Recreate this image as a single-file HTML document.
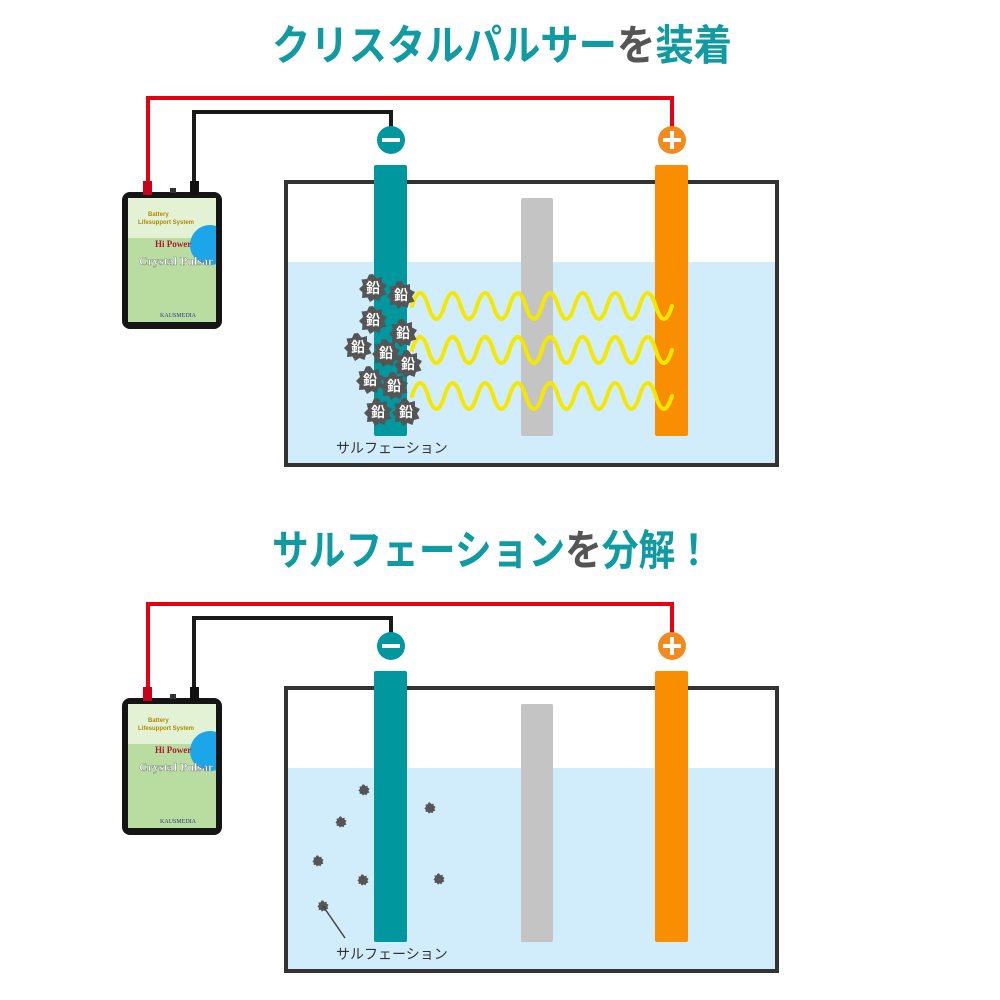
<!DOCTYPE html>
<html><head><meta charset="utf-8"><style>html,body{margin:0;padding:0;background:#fff}svg{display:block}</style></head>
<body>
<svg width="1000" height="1000" viewBox="0 0 1000 1000" xmlns="http://www.w3.org/2000/svg" font-family="'Liberation Sans','Noto Sans CJK JP',sans-serif">
<defs>
<clipPath id="pc"><rect x="128" y="198" width="88" height="124"/></clipPath>
<path id="star" d="M0,-14 L3.5,-9.5 9,-11 9,-5.5 14,-3 11,1.5 13.5,6.5 8,8 6.5,13 1.5,11 -3,14 -5.5,9.5 -11,10 -10.5,4.5 -14,1 -10,-3 -11.5,-8.5 -6,-9 -4,-13.5 Z"/>
<g id="device">
<rect x="122" y="192" width="100" height="137" rx="8" fill="#151515"/>
<g clip-path="url(#pc)">
<rect x="128" y="198" width="88" height="124" fill="#b9dca0"/>
<rect x="128" y="198" width="88" height="40" fill="#e3f2d4"/>
<circle cx="210" cy="245" r="20" fill="#1aa6e8"/>
</g>
<text x="148" y="216" font-size="6" fill="#b08a00" font-weight="bold">Battery</text>
<text x="138" y="224" font-size="6" fill="#b08a00" font-weight="bold">Lifesupport System</text>
<text x="155" y="247" font-size="9" fill="#b01830" font-weight="bold" font-family="'Liberation Serif',serif">Hi Power</text>
<text x="139" y="265" font-size="12" fill="#fff" font-weight="bold" font-family="'Liberation Serif',serif" stroke="#556" stroke-width="0.3">Crystal Pulsar</text>
<text x="160" y="317" font-size="6" fill="#2a3a8a" font-family="'Liberation Serif',serif">KAUSMEDIA</text>
<rect x="143" y="181" width="9" height="14" fill="#c8001a"/>
<rect x="190" y="181" width="9" height="14" fill="#111"/>
<rect x="170" y="188" width="6" height="5" fill="#333"/>
</g>
<g id="scene">
<rect x="288" y="262" width="488" height="202" fill="#d1edfb"/>
<rect x="286" y="182" width="491" height="283" fill="none" stroke="#333" stroke-width="4"/>
<polyline points="148,185 148,98 672,98 672,128" fill="none" stroke="#e60012" stroke-width="4"/>
<polyline points="194,185 194,112 391,112 391,128" fill="none" stroke="#1a1a1a" stroke-width="4"/>
<circle cx="391" cy="140" r="14" fill="#00979f"/>
<rect x="382" y="138" width="18" height="4" fill="#fff"/>
<circle cx="672" cy="140" r="14" fill="#f28a1e"/>
<rect x="663" y="138" width="18" height="4" fill="#fff"/><rect x="670" y="131" width="4" height="18" fill="#fff"/>
<rect x="374" y="165" width="33" height="271" rx="2" fill="#00979f"/>
<rect x="521" y="198" width="32" height="238" rx="2" fill="#c4c4c4"/>
<rect x="655" y="165" width="33" height="271" rx="2" fill="#f98f00"/>
</g>
</defs>

<text x="272" y="60" font-size="42" font-weight="bold" fill="#109aa2" textLength="460" lengthAdjust="spacingAndGlyphs">クリスタルパルサー<tspan fill="#555">を</tspan>装着</text>

<use href="#scene"/>
<use href="#device"/>
<g fill="none" stroke-linecap="round">
<path id="w1" d="M412,306 q8.1,-26 16.25,0 t16.25,0 t16.25,0 t16.25,0 t16.25,0 t16.25,0 t16.25,0 t16.25,0 t16.25,0 t16.25,0 t16.25,0 t16.25,0 t16.25,0 t16.25,0 t16.25,0 t16.25,0" stroke="#f5e800" stroke-width="4"/>
<g stroke="#b8e0f0" stroke-width="7" opacity="0.5"><use href="#w1" y="44"/></g>
<use href="#w1" y="44"/>
<use href="#w1" y="90"/>
</g>
<g fill="#555">
<use href="#star" x="373" y="288"/><use href="#star" x="401" y="295"/>
<use href="#star" x="373" y="320"/><use href="#star" x="403" y="333"/>
<use href="#star" x="358" y="347"/><use href="#star" x="386" y="353"/><use href="#star" x="408" y="364"/>
<use href="#star" x="370" y="380"/><use href="#star" x="394" y="386"/>
<use href="#star" x="378" y="412"/><use href="#star" x="406" y="412"/>
</g>
<g fill="#fff" font-size="14" font-weight="bold" text-anchor="middle">
<text x="373" y="293">鉛</text><text x="401" y="300">鉛</text>
<text x="373" y="325">鉛</text><text x="403" y="338">鉛</text>
<text x="358" y="352">鉛</text><text x="386" y="358">鉛</text><text x="408" y="369">鉛</text>
<text x="370" y="385">鉛</text><text x="394" y="391">鉛</text>
<text x="378" y="417">鉛</text><text x="406" y="417">鉛</text>
</g>
<text x="336" y="453" font-size="14" fill="#333">サルフェーション</text>

<text x="272" y="565" font-size="42" font-weight="bold" fill="#109aa2" textLength="440" lengthAdjust="spacingAndGlyphs">サルフェーション<tspan fill="#555">を</tspan>分解！</text>

<use href="#scene" y="506"/>
<use href="#device" y="506"/>
<g fill="#555">
<use href="#star" transform="translate(364,790) scale(0.4)"/>
<use href="#star" transform="translate(341,822) scale(0.4)"/>
<use href="#star" transform="translate(318,861) scale(0.4)"/>
<use href="#star" transform="translate(363,880) scale(0.4)"/>
<use href="#star" transform="translate(430,808) scale(0.4)"/>
<use href="#star" transform="translate(439,879) scale(0.4)"/>
<use href="#star" transform="translate(323,906) scale(0.4)"/>
</g>
<line x1="323" y1="906" x2="345" y2="938" stroke="#444" stroke-width="1.5"/>
<text x="336" y="959" font-size="14" fill="#333">サルフェーション</text>
</svg>
</body></html>
